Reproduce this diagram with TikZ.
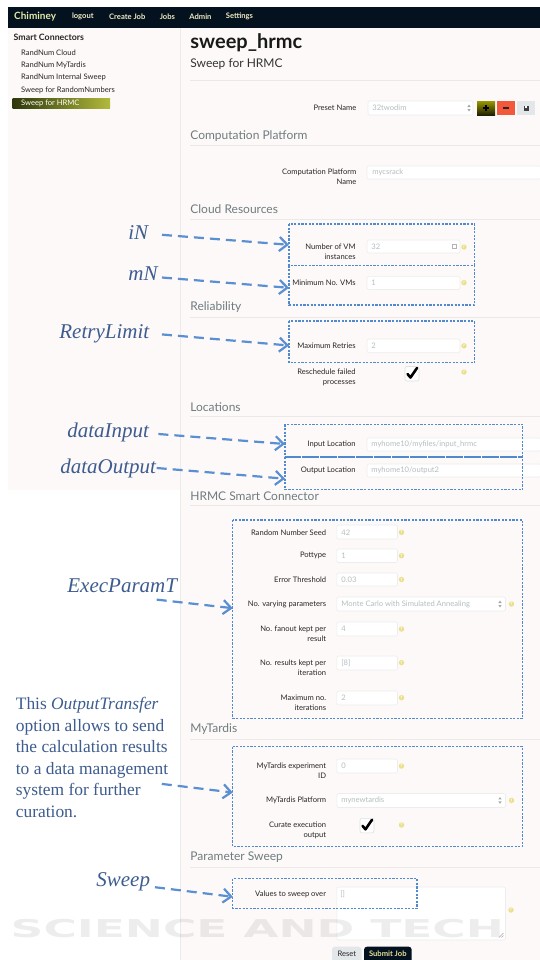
\documentclass[tikz,border=0pt]{standalone}
\usepackage{fontspec}
\setmainfont{Liberation Serif}
\newfontfamily\uifont{Lato}
\newfontfamily\wmfont{DejaVu Sans}
\usepackage{xcolor}
\usetikzlibrary{arrows.meta}

\definecolor{barcol}{HTML}{04111E}
\definecolor{pagecol}{HTML}{FDF9F8}
\definecolor{notecol}{HTML}{3D5C8F}
\definecolor{hintcol}{HTML}{5A8FD2}
\definecolor{boxcol}{HTML}{4F8AD0}
\definecolor{sectcol}{HTML}{6E7C80}
\definecolor{rulecol}{HTML}{ECE8E8}
\definecolor{labelcol}{HTML}{262626}
\definecolor{valcol}{HTML}{B4BEC1}
\definecolor{qcol}{HTML}{EBE08A}
\definecolor{brandcol}{HTML}{E2EDA8}
\definecolor{menucol}{HTML}{EEEBC2}
\definecolor{submitcol}{HTML}{E8E29A}
\definecolor{greybtn}{HTML}{E3E7EA}
\definecolor{redbtn}{HTML}{F4583A}
\definecolor{hlleft}{HTML}{2E380A}
\definecolor{hlright}{HTML}{B2BA3C}

\tikzset{
	note/.style={anchor=base west, inner sep=0, text=notecol,
		font=\fontsize{10.5}{12}\selectfont\itshape},
	hint/.style={->, draw=hintcol, line width=1.1pt, dash pattern=on 5pt off 3pt},
	field/.style={draw=boxcol, line width=0.55pt, dash pattern=on 1.1pt off 0.7pt},
	sect/.style={anchor=west, inner sep=0, text=sectcol, font=\uifont\fontsize{6}{7}\selectfont},
	rule/.style={draw=rulecol, line width=0.4pt},
	lbl/.style={anchor=east, inner sep=0, align=right, text=labelcol,
		font=\uifont\fontsize{3.8}{5.1}\selectfont},
	val/.style={anchor=west, inner sep=0, text=valcol, font=\uifont\fontsize{3.8}{5}\selectfont},
	inbox/.style={fill=white, draw=black!7, line width=0.3pt, rounded corners=1pt},
	hq/.style={circle, fill=qcol, inner sep=0, minimum size=2.7pt, text=white,
		font=\uifont\bfseries\fontsize{2.2}{2.2}\selectfont},
	menu/.style={anchor=west, inner sep=0, text=menucol, font=\uifont\bfseries\fontsize{3.8}{4.5}\selectfont},
	sideitem/.style={anchor=west, inner sep=0, text=labelcol, font=\uifont\fontsize{3.8}{4.5}\selectfont},
	tickline/.style={line width=1.3pt, line cap=round, line join=round},
}

% up/down arrows of a select box
\newcommand{\selarrows}[2]{%
	\fill[black!35] (#1-1.6,#2-1) -- (#1+1.6,#2-1) -- (#1,#2-3.4) -- cycle;
	\fill[black!35] (#1-1.6,#2+1) -- (#1+1.6,#2+1) -- (#1,#2+3.4) -- cycle;}
% checkbox with a tick, top left corner given
\newcommand{\tickbox}[2]{%
	\draw[fill=white, draw=black!12, line width=0.3pt, rounded corners=1pt] (#1,#2) rectangle (#1+14,#2+14.5);
	\draw[tickline] (#1+2.5,#2+7.5) -- (#1+5.5,#2+11) -- (#1+12,#2+1.5);}

\begin{document}
\begin{tikzpicture}[
		x = 0.5pt, y = -0.5pt, % one unit is one pixel, y runs downwards
		> = {Straight Barb[length=4pt,width=7pt]}, % arrow head style
	]
	\useasboundingbox (0,0) rectangle (540,960);
	\fill[white] (0,0) rectangle (540,960);
	\fill[pagecol] (180,28) rectangle (540,960);
	\fill[pagecol] (7.6,28) rectangle (180,489.7);
	\draw[black!8, line width=0.4pt] (180,28) -- (180,960);

	% top bar
	\fill[barcol] (7.6,7) rectangle (540,28);
	\node[anchor=west, inner sep=0, text=brandcol, font=\uifont\bfseries\fontsize{5}{6}\selectfont] (brand) at (13.8,16.5) {Chiminey};
	\node[menu] (mLogout) at (71.6,16.8) {logout};
	\node[menu] (mCreate) at (108.8,16.8) {Create Job};
	\node[menu] (mJobs) at (159.4,16.8) {Jobs};
	\node[menu] (mAdmin) at (189,16.8) {Admin};
	\node[menu] (mSettings) at (225.5,16.8) {Settings};

	% side menu
	\node[sideitem, font=\uifont\bfseries\fontsize{4.4}{5}\selectfont] (smart) at (13.3,37.7) {Smart Connectors};
	\node[sideitem] (sCloud) at (20.7,53) {RandNum Cloud};
	\node[sideitem] (sTardis) at (20.7,65.7) {RandNum MyTardis};
	\node[sideitem] (sInternal) at (20.7,77.7) {RandNum Internal Sweep};
	\node[sideitem] (sRandom) at (20.7,90) {Sweep for RandomNumbers};
	\shade[left color=hlleft, right color=hlright] (12.7,98.5) rectangle (110,108.5);
	\node[sideitem, text=white] (sHrmc) at (20.7,103) {Sweep for HRMC};

	% page head
	\node[anchor=west, inner sep=0, text=black!90, font=\uifont\bfseries\fontsize{10}{12}\selectfont] (pageTitle) at (190,43) {sweep\_hrmc};
	\node[anchor=west, inner sep=0, text=black!80, font=\uifont\fontsize{6}{7}\selectfont] (pageSub) at (190,64) {Sweep for HRMC};
	\draw[rule] (190,80) -- (540,80);

	% preset
	\node[lbl] (lPreset) at (356.7,108) {Preset Name};
	\draw[inbox] (368,101) rectangle (473,115);
	\node[val] (vPreset) at (372,108) {32twodim};
	\selarrows{469}{108}
	\shade[top color=olive!80!yellow, bottom color=black!75!olive] (477,101) rectangle (495,115);
	\draw[line width=0.9pt] (483,108) -- (489,108) (486,105) -- (486,111);
	\fill[redbtn] (497,101) rectangle (515,115);
	\draw[line width=0.9pt, black!85] (503,108) -- (509,108);
	\fill[greybtn] (517,101) rectangle (535,115);
	\fill[black!75] (523.5,105.5) rectangle (528.5,110.5);
	\fill[white] (524.7,106.2) rectangle (527.3,107.8);

	% computation platform
	\node[sect] (hComp) at (190,136) {Computation Platform};
	\draw[rule] (190,145) -- (540,145);
	\node[lbl] (lComp) at (356.7,176.5) {Computation Platform\\Name};
	\draw[inbox] (367,166) rectangle (541,179);
	\node[val] (vComp) at (372,172.5) {mycsrack};

	% cloud resources
	\node[sect] (hCloud) at (190,209.3) {Cloud Resources};
	\draw[rule] (190,219) -- (540,219);
	\node[lbl] (lVM) at (356,252) {Number of VM\\instances};
	\draw[inbox] (367,240) rectangle (460,253);
	\node[val] (vVM) at (371,246.5) {32};
	\draw[black!30, line width=0.3pt] (452.5,244.5) rectangle (456.5,248.5);
	\node[hq] (qVM) at (464,247) {?};
	\node[lbl] (lMin) at (356,282.6) {Minimum No. VMs};
	\draw[inbox] (367,276.4) rectangle (460,289.5);
	\node[val] (vMin) at (371,283) {1};
	\node[hq] (qMin) at (464,282.6) {?};
	\draw[field] (289,224) rectangle (474.5,265.4);
	\draw[field] (289,265.4) rectangle (474.5,305);
	\coordinate (tipVM) at (289,244.8);
	\coordinate (tipMin) at (289,287.8);

	% reliability
	\node[sect] (hRel) at (190,307.6) {Reliability};
	\draw[rule] (190,317) -- (540,317);
	\node[lbl] (lRetry) at (356,345.8) {Maximum Retries};
	\draw[inbox] (367,339) rectangle (460,352.7);
	\node[val] (vRetry) at (371,345.8) {2};
	\node[hq] (qRetry) at (464,345.8) {?};
	\node[lbl] (lResched) at (356,377) {Reschedule failed\\processes};
	\tickbox{405}{366.5}
	\node[hq] (qResched) at (464,372) {?};
	\draw[field] (289,321) rectangle (474.5,362.7);
	\coordinate (tipRetry) at (289,345.5);

	% locations
	\node[sect] (hLoc) at (190,407) {Locations};
	\draw[rule] (190,416) -- (540,416);
	\node[lbl] (lIn) at (356,444) {Input Location};
	\draw[inbox] (367,438) rectangle (541,451);
	\node[val] (vIn) at (371,444.5) {myhome10/myfiles/input\_hrmc};
	\node[lbl] (lOut) at (356,470) {Output Location};
	\draw[inbox] (367,464) rectangle (541,477);
	\node[val] (vOut) at (371,470.5) {myhome10/output2};
	\draw[field] (285,424.3) rectangle (522.7,457);
	\draw[field] (285,457) rectangle (522.7,489.7);
	\coordinate (tipIn) at (285,444);
	\coordinate (tipOut) at (285,478.7);

	% hrmc smart connector
	\node[sect] (hHrmc) at (190,496) {HRMC Smart Connector};
	\draw[rule] (190,505) -- (540,505);
	\node[lbl] (lSeed) at (326.5,532.3) {Random Number Seed};
	\draw[inbox] (336.8,525) rectangle (397.5,539);
	\node[val] (vSeed) at (341,532.3) {42};
	\node[hq] (qSeed) at (401.5,532.3) {?};
	\node[lbl] (lPot) at (326.5,555.7) {Pottype};
	\draw[inbox] (336.8,549) rectangle (397.5,562.5);
	\node[val] (vPot) at (341,555.7) {1};
	\node[hq] (qPot) at (401.5,555.7) {?};
	\node[lbl] (lErr) at (326.5,579.5) {Error Threshold};
	\draw[inbox] (336.8,573) rectangle (397.5,586);
	\node[val] (vErr) at (341,579.5) {0.03};
	\node[hq] (qErr) at (401.5,579.5) {?};
	\node[lbl] (lVary) at (326.5,604) {No. varying parameters};
	\draw[inbox] (336.8,597) rectangle (505.5,611);
	\node[val] (vVary) at (341,604) {Monte Carlo with Simulated Annealing};
	\selarrows{500}{604}
	\node[hq] (qVary) at (511.5,604) {?};
	\node[lbl] (lFan) at (326.5,634) {No. fanout kept per\\result};
	\draw[inbox] (336.8,622) rectangle (397.5,636);
	\node[val] (vFan) at (341,629) {4};
	\node[hq] (qFan) at (401.5,629) {?};
	\node[lbl] (lKept) at (326.5,667.8) {No. results kept per\\iteration};
	\draw[inbox] (336.8,656) rectangle (397.5,670);
	\node[val] (vKept) at (341,662.8) {[8]};
	\node[hq] (qKept) at (401.5,662.6) {?};
	\node[lbl] (lIter) at (326.5,702.5) {Maximum no.\\iterations};
	\draw[inbox] (336.8,691) rectangle (397.5,705);
	\node[val] (vIter) at (341,697.8) {2};
	\node[hq] (qIter) at (401.5,697.7) {?};
	\draw[field] (232.8,520) rectangle (522.7,718.4);
	\coordinate (tipExec) at (232.8,608.2);

	% mytardis
	\node[sect] (hTardis) at (190,729.5) {MyTardis};
	\draw[rule] (190,739) -- (540,739);
	\node[lbl] (lExp) at (326.5,771) {MyTardis experiment\\ID};
	\draw[inbox] (336.8,759) rectangle (397.5,773);
	\node[val] (vExp) at (341,766) {0};
	\node[hq] (qExp) at (401.5,766) {?};
	\node[lbl] (lPlat) at (326.5,800.4) {MyTardis Platform};
	\draw[inbox] (336.8,793.5) rectangle (505.5,807.5);
	\node[val] (vPlat) at (341,800.4) {mynewtardis};
	\selarrows{500}{800.4}
	\node[hq] (qPlat) at (511.5,800.4) {?};
	\node[lbl] (lCurate) at (326.5,830.3) {Curate execution\\output};
	\tickbox{360}{818.3}
	\node[hq] (qCurate) at (401.5,825) {?};
	\draw[field] (232.8,746.7) rectangle (522.7,846.5);
	\coordinate (tipTardis) at (232.8,792.5);

	% parameter sweep
	\node[sect] (hSweep) at (190,857.2) {Parameter Sweep};
	\draw[rule] (190,867.5) -- (540,867.5);
	\draw[inbox] (336.8,887) rectangle (505.5,940);
	\draw[black!35, line width=0.3pt] (499,937.5) -- (503.5,933) (501.5,937.5) -- (503.5,935.5);
	\node[val] (vSweep) at (340,894.4) {[]};
	\node[hq] (qSweep) at (511,910) {?};
	\node[lbl] (lSweep) at (326.4,894.4) {Values to sweep over};
	\draw[field] (232.8,878.6) rectangle (417,908.5);
	\coordinate (tipSweep) at (232.8,896.8);

	% buttons
	\fill[greybtn, rounded corners=1.5pt] (332,946.7) rectangle (361.7,965);
	\node[sideitem, anchor=center] (reset) at (346.9,954) {Reset};
	\fill[barcol, rounded corners=1.5pt] (364,946.7) rectangle (411.7,965);
	\node[menu, anchor=center, text=submitcol] (submit) at (387.8,954) {Submit Job};

	% notes
	\node[note] (iN) at (128,239) {iN};
	\node[note] (mN) at (128,280) {mN};
	\node[note] (retry) at (59,338) {RetryLimit};
	\node[note] (dataIn) at (67,437) {dataInput};
	\node[note] (dataOut) at (60,473.5) {dataOutput};
	\node[note] (exec) at (67,592) {ExecParamT};
	\node[note] (sweep) at (96,886.5) {Sweep};
	\node[anchor=north west, inner sep=0, align=left, text=notecol,
		font=\fontsize{8.7}{10.75}\selectfont] (transfer) at (15.5,697)
		{This \textit{OutputTransfer}\\option allows to send\\the calculation results\\to a data management\\system for further\\curation.};

	\draw[hint] ([shift={(34,-4.2)}]iN.base west) to (tipVM);
	\draw[hint] ([shift={(34,-2.5)}]mN.base west) to (tipMin);
	\draw[hint] ([shift={(103,-3.6)}]retry.base west) to (tipRetry);
	\draw[hint] ([shift={(91.4,-3)}]dataIn.base west) to (tipIn);
	\draw[hint] ([shift={(96.7,-5.5)}]dataOut.base west) to (tipOut);
	\draw[hint] ([shift={(89.7,7.6)}]exec.base west) to (tipExec);
	\draw[hint] ([shift={(146.3,86.9)}]transfer.north west) to (tipTardis);
	\draw[hint] ([shift={(59,0.7)}]sweep.base west) to (tipSweep);

	% publisher watermark
	\node[anchor=west, inner sep=0, xscale=1.85, transform shape, text=black, opacity=0.07,
		font=\wmfont\bfseries\fontsize{12.3}{13}\selectfont] (mark) at (10,929) {SCIENCE AND TECH};
\end{tikzpicture}
\end{document}
